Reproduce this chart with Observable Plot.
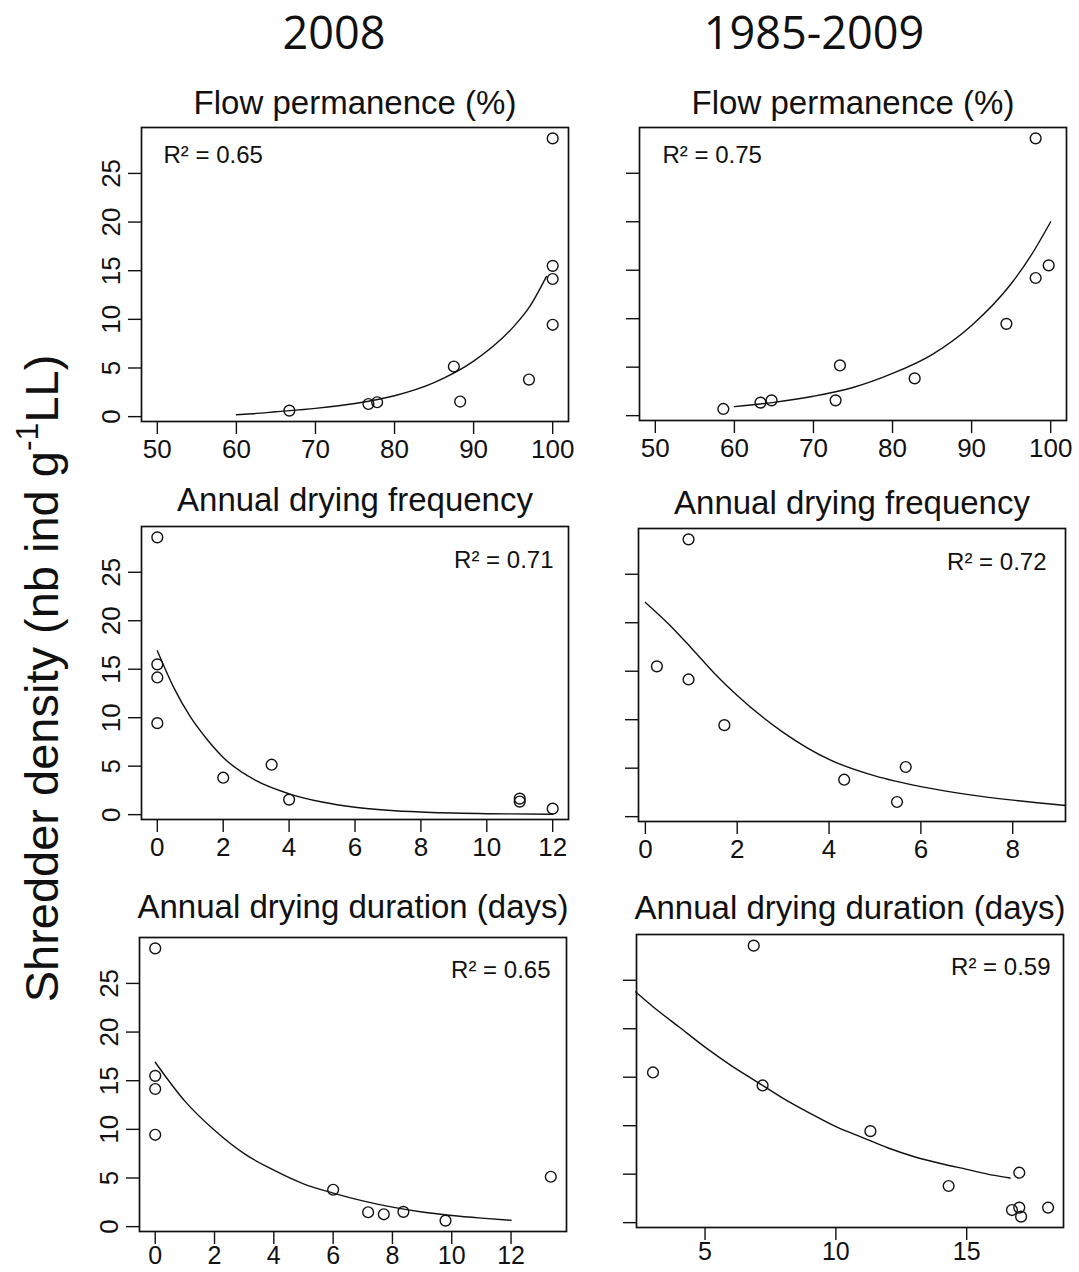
<!DOCTYPE html>
<html><head><meta charset="utf-8">
<script src="https://cdn.jsdelivr.net/npm/d3@7"></script>
<script src="https://cdn.jsdelivr.net/npm/@observablehq/plot@0.6"></script>
<style>
body{margin:0;background:#fff;}
#root{position:relative;width:1079px;height:1272px;overflow:hidden;background:#fff;color:#111;}
.hdr{position:absolute;font-family:'Open Sans',sans-serif;font-size:45px;line-height:45px;width:400px;text-align:center;color:#111;}
.ylab{position:absolute;font-family:'Liberation Sans',Arial,sans-serif;font-size:47px;line-height:47px;width:760px;height:47px;text-align:center;white-space:nowrap;transform:rotate(-90deg);transform-origin:50% 50%;color:#111;}
.ylab sup{font-size:0.68em;vertical-align:0.62em;line-height:0;}
</style></head><body><div id="root"></div>
<script>
// ---- column headers and panel titles ----
const columnHeaders = ["2008", "1985-2009"];
const panelTitles = ["Flow permanence (%)", "Flow permanence (%)", "Annual drying frequency", "Annual drying frequency", "Annual drying duration (days)", "Annual drying duration (days)"];
const r2Values = ["0.65", "0.75", "0.71", "0.72", "0.65", "0.59"];
const yTicks = [0, 5, 10, 15, 20, 25];

// ---- 2008 : flow permanence ----
const fp2008X = [66.7, 76.7, 77.8, 87.5, 88.3, 97.0, 100, 100, 100, 100];
const fp2008Y = [0.62, 1.30, 1.48, 5.15, 1.55, 3.81, 28.6, 15.5, 14.15, 9.44];
const fp2008FitX = [60, 62, 65, 70, 75, 80, 85, 90, 95, 97, 99.2];
const fp2008FitY = [0.2, 0.3, 0.5, 0.85, 1.35, 2.15, 3.5, 5.7, 9.2, 11.2, 14.4];
const fpTicks = [50, 60, 70, 80, 90, 100];

// ---- 1985-2009 : flow permanence ----
const fpLongX = [58.6, 63.3, 64.7, 72.8, 73.35, 82.8, 94.4, 98.1, 98.1, 99.75];
const fpLongY = [0.69, 1.34, 1.58, 1.58, 5.18, 3.84, 9.47, 28.6, 14.2, 15.5];
const fpLongFitX = [60, 65, 70, 75, 80, 85, 90, 95, 97.5, 100];
const fpLongFitY = [0.93, 1.37, 2.0, 2.9, 4.35, 6.3, 9.3, 13.6, 16.5, 20.0];

// ---- 2008 : annual drying frequency ----
const fr2008X = [0, 0, 0, 0, 2.0, 3.47, 4.0, 11.0, 11.0, 12.0];
const fr2008Y = [28.6, 15.5, 14.15, 9.44, 3.81, 5.15, 1.55, 1.65, 1.35, 0.62];
const fr2008FitX = [0, 0.5, 1, 1.5, 2, 3, 4, 5, 6, 7, 8, 10, 12];
const fr2008FitY = [16.9, 13.1, 10.1, 7.8, 5.9, 3.5, 2.15, 1.3, 0.77, 0.46, 0.27, 0.1, 0.04];
const fr2008Ticks = [0, 2, 4, 6, 8, 10, 12];

// ---- 1985-2009 : annual drying frequency ----
const frLongX = [0.94, 0.25, 0.94, 1.72, 4.33, 5.67, 5.48];
const frLongY = [28.6, 15.5, 14.15, 9.44, 3.81, 5.12, 1.51];
const frLongFitX = [0, 0.5, 1, 1.5, 2, 3, 4, 5, 6, 7, 8, 9.15];
const frLongFitY = [22.1, 19.9, 17.4, 14.8, 12.5, 8.7, 5.9, 4.2, 3.1, 2.3, 1.7, 1.15];
const frLongTicks = [0, 2, 4, 6, 8];

// ---- 2008 : annual drying duration ----
const du2008X = [0, 0, 0, 0, 6.0, 7.18, 7.71, 8.37, 9.79, 13.34];
const du2008Y = [28.6, 15.5, 14.15, 9.44, 3.79, 1.48, 1.27, 1.52, 0.62, 5.13];
const du2008FitX = [0, 1, 2, 3, 4, 5, 6, 7, 8, 9, 10, 11, 12];
const du2008FitY = [16.9, 12.9, 9.9, 7.5, 5.8, 4.4, 3.45, 2.65, 2.0, 1.5, 1.15, 0.88, 0.65];
const du2008Ticks = [0, 2, 4, 6, 8, 10, 12];

// ---- 1985-2009 : annual drying duration ----
const duLongX = [6.86, 3.01, 7.2, 11.32, 14.31, 17.01, 16.73, 17.01, 17.08, 18.11];
const duLongY = [28.57, 15.49, 14.15, 9.44, 3.78, 5.15, 1.3, 1.55, 0.62, 1.55];
const duLongFitX = [2.35, 3, 4, 5, 6, 7, 8, 9, 10, 11, 12, 13, 14, 15, 16, 16.66];
const duLongFitY = [23.8, 22.3, 20.2, 18.1, 16.2, 14.5, 12.8, 11.3, 9.9, 8.8, 7.7, 6.8, 6.1, 5.5, 4.9, 4.6];
const duLongTicks = [5, 10, 15];

const root = document.getElementById("root");
const FONT = "'Liberation Sans', Arial, Helvetica, sans-serif";
const INK = "#111";

function addPanel(cfg) {
  const ML = 64, MR = 16, MT = 50, MB = cfg.mb;
  const pts = cfg.xs.map((x, i) => ({x, y: cfg.ys[i]}));
  const fit = cfg.fx.map((x, i) => ({x, y: cfg.fy[i]}));
  const r2 = [`R² = ${cfg.r2}`];
  const right = cfg.r2Side === "right";
  const chart = Plot.plot({
    width: cfg.box.w + ML + MR,
    height: cfg.box.h + MT + MB,
    marginLeft: ML, marginRight: MR, marginTop: MT, marginBottom: MB,
    x: {domain: cfg.xdom},
    y: {domain: [-0.5, 29.72]},
    style: {fontFamily: FONT, fontSize: "26px", color: INK, background: "transparent", overflow: "visible"},
    marks: [
      Plot.frame({stroke: INK, strokeWidth: 1.7}),
      Plot.axisX({ticks: cfg.xticks, tickSize: 13, tickPadding: cfg.xpad, label: null, tickFormat: d => String(d), fontSize: cfg.xfont, strokeWidth: 1.4}),
      Plot.axisY({ticks: yTicks, tickSize: 13, tickPadding: 9, tickRotate: -90, label: null,
        tickFormat: cfg.yLabels ? (d => String(d)) : (() => ""), fontSize: 26, strokeWidth: 1.4}),
      Plot.line(fit, {x: "x", y: "y", curve: "monotone-x", stroke: INK, strokeWidth: 1.4}),
      Plot.dot(pts, {x: "x", y: "y", r: 5.4, stroke: INK, strokeWidth: 1.4, fill: "none"}),
      Plot.text(r2, {text: d => d, frameAnchor: right ? "top-right" : "top-left",
        textAnchor: right ? "end" : "start", lineAnchor: "middle",
        dx: cfg.r2dx, dy: cfg.r2dy, fontSize: 24, fill: INK}),
      Plot.text([cfg.title], {text: d => d, frameAnchor: "top", lineAnchor: "middle",
        dy: cfg.titleDy, fontSize: 33, fill: INK})
    ]
  });
  chart.style.position = "absolute";
  chart.style.left = (cfg.box.l - ML) + "px";
  chart.style.top = (cfg.box.t - MT) + "px";
  root.appendChild(chart);
}

addPanel({xs: fp2008X, ys: fp2008Y, fx: fp2008FitX, fy: fp2008FitY, xdom: [48, 102], xticks: fpTicks,
  r2: r2Values[0], r2Side: "left", r2dx: 22, r2dy: 28, title: panelTitles[0], titleDy: -24, yLabels: true,
  xpad: 5, xfont: 26, mb: 56, box: {l: 141, t: 127, w: 427, h: 294}});
addPanel({xs: fpLongX, ys: fpLongY, fx: fpLongFitX, fy: fpLongFitY, xdom: [48, 102], xticks: fpTicks,
  r2: r2Values[1], r2Side: "left", r2dx: 23, r2dy: 28, title: panelTitles[1], titleDy: -24, yLabels: false,
  xpad: 5, xfont: 26, mb: 56, box: {l: 639, t: 127, w: 427, h: 293}});
addPanel({xs: fr2008X, ys: fr2008Y, fx: fr2008FitX, fy: fr2008FitY, xdom: [-0.48, 12.48], xticks: fr2008Ticks,
  r2: r2Values[2], r2Side: "right", r2dx: -15, r2dy: 34, title: panelTitles[2], titleDy: -26, yLabels: true,
  xpad: 5, xfont: 26, mb: 56, box: {l: 141, t: 526, w: 427, h: 293}});
addPanel({xs: frLongX, ys: frLongY, fx: frLongFitX, fy: frLongFitY, xdom: [-0.15, 9.15], xticks: frLongTicks,
  r2: r2Values[3], r2Side: "right", r2dx: -19, r2dy: 34, title: panelTitles[3], titleDy: -25, yLabels: false,
  xpad: 5, xfont: 26, mb: 56, box: {l: 638, t: 528, w: 427, h: 293}});
addPanel({xs: du2008X, ys: du2008Y, fx: du2008FitX, fy: du2008FitY, xdom: [-0.53, 13.87], xticks: du2008Ticks,
  r2: r2Values[4], r2Side: "right", r2dx: -16, r2dy: 33, title: panelTitles[4], titleDy: -30, yLabels: true,
  xpad: 2, xfont: 25, mb: 38, box: {l: 139, t: 937, w: 427, h: 294}});
addPanel({xs: duLongX, ys: duLongY, fx: duLongFitX, fy: duLongFitY, xdom: [2.38, 18.7], xticks: duLongTicks,
  r2: r2Values[5], r2Side: "right", r2dx: -13, r2dy: 33, title: panelTitles[5], titleDy: -26, yLabels: false,
  xpad: 2, xfont: 25, mb: 42, box: {l: 636, t: 934, w: 427, h: 293}});

// column headers
[[334, columnHeaders[0]], [814, columnHeaders[1]]].forEach(([cx, t]) => {
  const d = document.createElement("div");
  d.className = "hdr";
  d.textContent = t;
  d.style.left = (cx - 200) + "px";
  d.style.top = "9px";
  root.appendChild(d);
});

// shared y label
const yl = document.createElement("div");
yl.className = "ylab";
yl.innerHTML = "Shredder density (nb ind g<sup>-1</sup>LL)";
yl.style.left = (41 - 380) + "px";
yl.style.top = (678 - 23) + "px";
root.appendChild(yl);
</script></body></html>
